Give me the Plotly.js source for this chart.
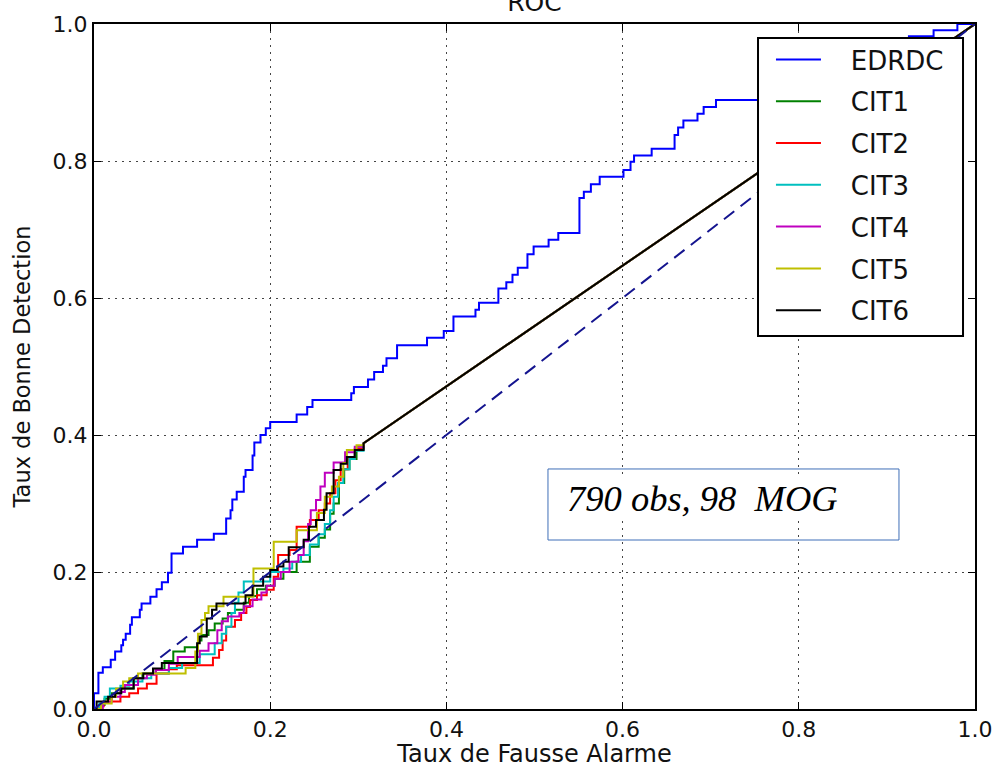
<!DOCTYPE html>
<html>
<head>
<meta charset="utf-8">
<script src="https://cdn.plot.ly/plotly-3.0.1.min.js"></script>
<style>html,body{margin:0;padding:0;background:#fff;}#chart{width:996px;height:768px;}</style>
</head>
<body>
<div id="chart"></div>
<script>
// ---- Data ----
const seriesNames = ['EDRDC', 'CIT1', 'CIT2', 'CIT3', 'CIT4', 'CIT5', 'CIT6'];

// EDRDC step points: false-alarm rate where a step occurs, detection rate after the step
const edrdcFpr = [0, 0, 0.005, 0.010, 0.019, 0.024, 0.031, 0.033, 0.036, 0.041, 0.043, 0.052, 0.054, 0.064, 0.071, 0.077, 0.084, 0.088, 0.101, 0.117, 0.136, 0.150, 0.155, 0.157, 0.162, 0.170, 0.172, 0.180, 0.182, 0.189, 0.195, 0.200, 0.230, 0.242, 0.248, 0.292, 0.295, 0.311, 0.318, 0.328, 0.332, 0.344, 0.378, 0.397, 0.408, 0.433, 0.437, 0.459, 0.468, 0.475, 0.481, 0.492, 0.499, 0.516, 0.527, 0.551, 0.556, 0.564, 0.574, 0.601, 0.609, 0.613, 0.633, 0.659, 0.663, 0.669, 0.685, 0.692, 0.706, 0.780, 0.830, 0.870, 0.900, 0.925, 0.953, 0.980, 1.0];
const edrdcTpr = [0, 0.023, 0.053, 0.061, 0.072, 0.084, 0.093, 0.101, 0.110, 0.123, 0.134, 0.145, 0.154, 0.164, 0.175, 0.185, 0.199, 0.227, 0.237, 0.247, 0.256, 0.278, 0.290, 0.306, 0.317, 0.339, 0.349, 0.370, 0.389, 0.400, 0.410, 0.419, 0.430, 0.441, 0.451, 0.461, 0.470, 0.481, 0.492, 0.501, 0.512, 0.531, 0.542, 0.552, 0.573, 0.583, 0.593, 0.614, 0.623, 0.634, 0.644, 0.664, 0.675, 0.685, 0.695, 0.746, 0.755, 0.766, 0.777, 0.787, 0.799, 0.808, 0.818, 0.838, 0.849, 0.859, 0.869, 0.879, 0.889, 0.900, 0.930, 0.950, 0.970, 0.982, 0.991, 1.0, 1.0];

// CIT series: steps up to about (0.31, 0.39), then a straight segment to (1, 1)
const cit1Fpr = [0, 0.006, 0.012, 0.020, 0.030, 0.045, 0.055, 0.070, 0.080, 0.090, 0.103, 0.118, 0.122, 0.130, 0.137, 0.146, 0.152, 0.160, 0.170, 0.176, 0.185, 0.195, 0.205, 0.215, 0.230, 0.245, 0.255, 0.262, 0.268, 0.272, 0.278, 0.284, 0.290, 0.298, 0.306, 1.0];
const cit1Tpr = [0, 0.006, 0.015, 0.023, 0.030, 0.045, 0.052, 0.058, 0.070, 0.084, 0.090, 0.100, 0.108, 0.115, 0.125, 0.132, 0.140, 0.145, 0.155, 0.165, 0.175, 0.180, 0.190, 0.200, 0.215, 0.237, 0.250, 0.262, 0.285, 0.300, 0.330, 0.350, 0.365, 0.380, 0.388, 1.0];

const cit2Fpr = [0, 0.005, 0.011, 0.030, 0.040, 0.050, 0.060, 0.071, 0.085, 0.094, 0.135, 0.142, 0.146, 0.150, 0.160, 0.167, 0.173, 0.177, 0.185, 0.196, 0.204, 0.209, 0.222, 0.230, 0.245, 0.255, 0.262, 0.268, 0.274, 0.280, 0.288, 0.296, 0.306, 1.0];
const cit2Tpr = [0, 0.004, 0.011, 0.018, 0.023, 0.030, 0.037, 0.052, 0.058, 0.064, 0.075, 0.086, 0.100, 0.120, 0.130, 0.140, 0.149, 0.159, 0.166, 0.174, 0.193, 0.225, 0.232, 0.266, 0.276, 0.290, 0.300, 0.315, 0.334, 0.350, 0.365, 0.380, 0.388, 1.0];

const cit3Fpr = [0, 0.006, 0.012, 0.018, 0.030, 0.040, 0.055, 0.065, 0.085, 0.100, 0.120, 0.137, 0.145, 0.150, 0.156, 0.160, 0.164, 0.170, 0.200, 0.215, 0.225, 0.235, 0.245, 0.255, 0.262, 0.268, 0.272, 0.277, 0.283, 0.290, 0.296, 0.306, 1.0];
const cit3Tpr = [0, 0.008, 0.018, 0.030, 0.034, 0.040, 0.045, 0.052, 0.060, 0.067, 0.080, 0.096, 0.110, 0.120, 0.140, 0.155, 0.170, 0.186, 0.200, 0.205, 0.215, 0.225, 0.240, 0.255, 0.270, 0.290, 0.310, 0.330, 0.350, 0.365, 0.377, 0.388, 1.0];

const cit4Fpr = [0, 0.010, 0.020, 0.030, 0.035, 0.050, 0.060, 0.070, 0.085, 0.095, 0.120, 0.130, 0.140, 0.145, 0.152, 0.165, 0.170, 0.180, 0.190, 0.196, 0.205, 0.212, 0.222, 0.232, 0.238, 0.243, 0.246, 0.252, 0.257, 0.262, 0.272, 0.285, 0.296, 0.306, 1.0];
const cit4Tpr = [0, 0.010, 0.018, 0.025, 0.035, 0.045, 0.050, 0.057, 0.066, 0.076, 0.085, 0.096, 0.115, 0.128, 0.135, 0.140, 0.150, 0.160, 0.170, 0.180, 0.190, 0.200, 0.215, 0.225, 0.245, 0.270, 0.290, 0.305, 0.325, 0.345, 0.360, 0.375, 0.383, 0.388, 1.0];

const cit5Fpr = [0, 0.008, 0.020, 0.025, 0.033, 0.040, 0.050, 0.104, 0.115, 0.118, 0.122, 0.126, 0.130, 0.147, 0.181, 0.204, 0.230, 0.253, 0.262, 0.270, 0.278, 0.283, 0.287, 0.298, 0.306, 1.0];
const cit5Tpr = [0, 0.008, 0.018, 0.030, 0.040, 0.045, 0.052, 0.060, 0.084, 0.110, 0.130, 0.140, 0.150, 0.164, 0.205, 0.244, 0.261, 0.286, 0.310, 0.325, 0.339, 0.359, 0.378, 0.385, 0.388, 1.0];

const cit6Fpr = [0, 0.003, 0.016, 0.024, 0.031, 0.045, 0.056, 0.067, 0.077, 0.117, 0.120, 0.128, 0.134, 0.139, 0.172, 0.180, 0.192, 0.200, 0.208, 0.215, 0.221, 0.238, 0.244, 0.252, 0.261, 0.264, 0.272, 0.280, 0.287, 0.296, 0.306, 1.0];
const cit6Tpr = [0, 0.011, 0.018, 0.023, 0.030, 0.045, 0.052, 0.059, 0.067, 0.096, 0.106, 0.132, 0.145, 0.154, 0.166, 0.180, 0.193, 0.203, 0.208, 0.215, 0.236, 0.247, 0.266, 0.276, 0.291, 0.315, 0.349, 0.358, 0.368, 0.378, 0.388, 1.0];

// chance diagonal
const chanceFpr = [0, 1];
const chanceTpr = [0, 1];

const tickVals = [0, 0.2, 0.4, 0.6, 0.8, 1.0];
const tickText = ['0.0', '0.2', '0.4', '0.6', '0.8', '1.0'];

const titleText = 'ROC';
const xTitle = 'Taux de Fausse Alarme';
const yTitle = 'Taux de Bonne Detection';
const noteText = '790 obs, 98&nbsp; MOG';

// ---- Build step-shaped paths from the step points ----
function steps(xs, ys, linearTail) {
  const ox = [xs[0]], oy = [ys[0]];
  const n = xs.length;
  for (let i = 1; i < n; i++) {
    if (linearTail && i === n - 1) { ox.push(xs[i]); oy.push(ys[i]); continue; }
    ox.push(xs[i]); oy.push(ys[i - 1]);
    ox.push(xs[i]); oy.push(ys[i]);
  }
  return {x: ox, y: oy};
}

const seriesData = [
  [edrdcFpr, edrdcTpr, false],
  [cit1Fpr, cit1Tpr, true],
  [cit2Fpr, cit2Tpr, true],
  [cit3Fpr, cit3Tpr, true],
  [cit4Fpr, cit4Tpr, true],
  [cit5Fpr, cit5Tpr, true],
  [cit6Fpr, cit6Tpr, true]
];
const colors = ['#0000ff', '#008000', '#ff0000', '#00bfbf', '#bf00bf', '#bfbf00', '#000000'];
const legendPad = '\u00a0\u00a0\u00a0';

const traces = seriesData.map((s, i) => {
  const p = steps(s[0], s[1], s[2]);
  return {
    x: p.x, y: p.y, type: 'scatter', mode: 'lines', name: legendPad + seriesNames[i],
    legendgroup: 'g' + i,
    line: {color: colors[i], width: 2}, hoverinfo: 'skip'
  };
});
traces.push({
  x: chanceFpr, y: chanceTpr, type: 'scatter', mode: 'lines', showlegend: false,
  line: {color: '#14148f', width: 2, dash: '13px,8px'}, hoverinfo: 'skip'
});

const axisCommon = {
  range: [0, 1], tickvals: tickVals, ticktext: tickText,
  showline: true, linecolor: '#000', linewidth: 2, mirror: 'allticks',
  ticks: 'inside', ticklen: 7, tickwidth: 1, tickcolor: '#000',
  showgrid: true, gridcolor: '#444', gridwidth: 1, griddash: '2px,5px',
  zeroline: false, tickfont: {size: 22, color: '#111'}, fixedrange: true
};

const layout = {
  width: 996, height: 768,
  margin: {l: 94, r: 21, t: 24, b: 59, pad: 0},
  paper_bgcolor: '#fff', plot_bgcolor: '#fff',
  font: {family: 'DejaVu Sans, sans-serif', color: '#111'},
  title: {text: titleText, font: {size: 25, color: '#111'}, xref: 'paper', x: 0.5, xanchor: 'center', yref: 'container', y: 0.997, yanchor: 'middle'},
  xaxis: Object.assign({}, axisCommon, {title: {text: xTitle, font: {size: 24, color: '#111'}, standoff: 13}}),
  yaxis: Object.assign({}, axisCommon, {title: {text: yTitle, font: {size: 22.5, color: '#111'}, standoff: 16}}),
  showlegend: true,
  legend: {
    x: 0.7684, y: 0.9825, xanchor: 'left', yanchor: 'top',
    bgcolor: 'rgba(0,0,0,0)', borderwidth: 0,
    font: {size: 26, color: '#111'}, traceorder: 'grouped', tracegroupgap: 5,
    itemwidth: 45
  },
  shapes: [
    {type: 'rect', xref: 'paper', yref: 'paper', x0: 0.7537, x1: 0.9864, y0: 0.5445, y1: 0.9796,
     fillcolor: '#fff', line: {color: '#000', width: 2}, layer: 'above'},
    {type: 'rect', xref: 'paper', yref: 'paper', x0: 0.5153, x1: 0.9137, y0: 0.2467, y1: 0.3504,
     fillcolor: 'rgba(0,0,0,0)', line: {color: '#3f6fb8', width: 1}, layer: 'above'}
  ],
  annotations: [
    {xref: 'paper', yref: 'paper', x: 0.6905, y: 0.307, xanchor: 'center', yanchor: 'middle', showarrow: false,
     text: '<i>' + noteText + '</i>', font: {family: 'Liberation Serif, Times New Roman, serif', size: 36.5, color: '#000'},
     bgcolor: '#fff'}
  ]
};

Plotly.newPlot('chart', traces, layout, {displayModeBar: false, staticPlot: true});
</script>
</body>
</html>
